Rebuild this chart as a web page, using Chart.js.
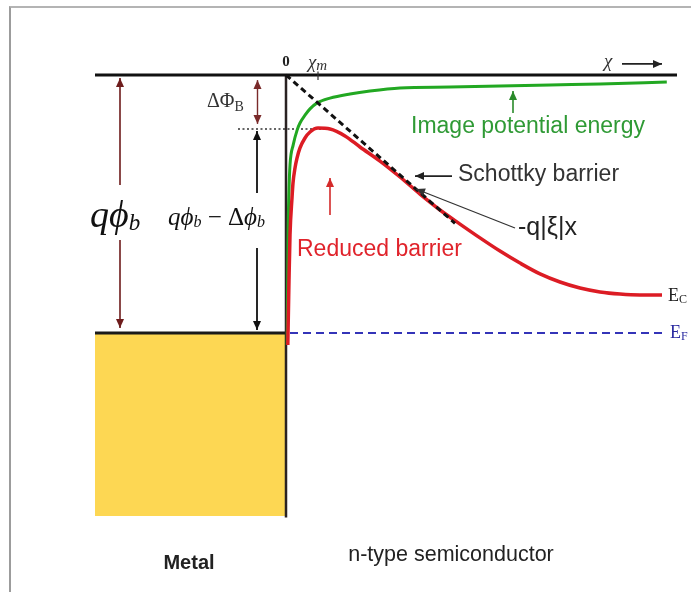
<!DOCTYPE html>
<html>
<head>
<meta charset="utf-8">
<script src="https://cdn.jsdelivr.net/npm/chart.js@4.4.1/dist/chart.umd.min.js"></script>
<style>
  html, body { margin: 0; padding: 0; background: #fff; }
  #wrap { position: relative; width: 691px; height: 592px; }
  #frame { position: absolute; left: 9px; top: 6px; right: 0; bottom: 0;
           border-left: 2px solid #9c9c9c; border-top: 2px solid #b4b4b4; }
  canvas { position: absolute; left: 0; top: 0; }
</style>
</head>
<body>
<div id="wrap">
  <div id="frame"></div>
  <canvas id="band" width="691" height="592"></canvas>
</div>
<script>
// Energies in eV (Fermi level = 0), positions in nm from the metal/semiconductor interface.
const barrierHeight = 0.86;      // q·phi_b
const loweredTop = 0.68;         // peak of the reduced barrier
const xMax = 0.8;                // position of the barrier maximum, x_m
const fieldSlope = 0.117;        // q|ξ| (eV per nm)
const metalLeft = -4.775;
const metalBottom = -0.61;
const vacuumRight = 9.775;
const fermiRight = 9.4;

// Image potential energy curve
const imageX = [0.03, 0.05, 0.075, 0.1, 0.18, 0.28, 0.35, 0.48, 0.6, 0.78, 1.1, 1.6, 2.1, 2.85, 4.1, 5.35, 6.6, 7.85, 9.52];
const imageE = [-0.04, 0.31, 0.477, 0.56, 0.627, 0.677, 0.70, 0.727, 0.747, 0.767, 0.783, 0.797, 0.807, 0.817, 0.82, 0.823, 0.827, 0.83, 0.837];

// Conduction band edge including image-force lowering
const bandX = [0.045, 0.075, 0.1, 0.15, 0.175, 0.225, 0.275, 0.35, 0.475, 0.6, 0.8, 1.1, 1.475, 1.85, 2.35, 2.85, 3.35, 3.85, 4.35, 4.85, 5.35, 5.85, 6.35, 6.85, 7.35, 7.85, 8.35, 8.85, 9.4];
const bandE = [-0.04, 0.177, 0.327, 0.45, 0.50, 0.55, 0.583, 0.617, 0.65, 0.67, 0.683, 0.68, 0.657, 0.62, 0.573, 0.52, 0.463, 0.41, 0.363, 0.317, 0.273, 0.233, 0.197, 0.17, 0.15, 0.137, 0.13, 0.127, 0.127];

const pts = (xs, ys) => xs.map((x, i) => ({ x, y: ys[i] }));
const fieldEnd = 4.225;

const serif = '"Liberation Serif", "Times New Roman", serif';
const sans = '"Liberation Sans", Arial, Helvetica, sans-serif';

// Text runs: [text, font, dy] drawn one after another
const labels = [
  { x: 0, y: 0.903, align: 'center', color: '#222', runs: [['0', 'bold 15px ' + serif, 0]] },
  { x: 0.55, y: 0.9, color: '#333', runs: [['χ', 'italic 19px ' + serif, 0], ['m', 'italic 15px ' + serif, 3]] },
  { x: 7.95, y: 0.903, color: '#333', runs: [['χ', 'italic 19px ' + serif, 0]] },
  { x: -1.975, y: 0.77, color: '#333', runs: [['ΔΦ', '20px ' + serif, 0], ['B', '14px ' + serif, 5]] },
  { x: -4.9, y: 0.353, base: 'alphabetic', color: '#111', runs: [['q', 'italic 38px ' + serif, 0], ['ϕ', 'italic 38px ' + serif, 0], ['b', 'italic 23px ' + serif, 3]] },
  { x: -2.95, y: 0.36, base: 'alphabetic', color: '#111', runs: [['q', 'italic 25px ' + serif, 0], ['ϕ', 'italic 25px ' + serif, 0], ['b', 'italic 16px ' + serif, 2], [' − Δ', '25px ' + serif, 0], ['ϕ', 'italic 25px ' + serif, 0], ['b', 'italic 16px ' + serif, 2]] },
  { x: 3.125, y: 0.687, color: '#2f9a35', runs: [['Image potential energy', '23px ' + sans, 0]] },
  { x: 4.3, y: 0.527, color: '#333', runs: [['Schottky barrier', '23px ' + sans, 0]] },
  { x: 5.8, y: 0.35, color: '#222', runs: [['-q|ξ|x', '25px ' + sans, 0]] },
  { x: 0.275, y: 0.277, color: '#e0232b', runs: [['Reduced barrier', '23px ' + sans, 0]] },
  { x: 9.55, y: 0.123, color: '#222', runs: [['E', '18px ' + serif, 0], ['C', '12px ' + serif, 4]] },
  { x: 9.6, y: 0.0, color: '#2a2aa0', runs: [['E', '18px ' + serif, 0], ['F', '12px ' + serif, 4]] },
  { x: -2.425, y: -0.767, align: 'center', color: '#222', runs: [['Metal', 'bold 20px ' + sans, 0]] },
  { x: 4.125, y: -0.74, align: 'center', color: '#222', runs: [['n-type semiconductor', '21.5px ' + sans, 0]] }
];

// Arrows: from (x1,y1) to (x2,y2); heads at 'end', 'start' or 'both'; optional gap in y
const arrows = [
  { x1: -4.15, y1: 0.017, x2: -4.15, y2: 0.85, heads: 'both', color: '#6e1c1c', w: 1.6, gap: [0.31, 0.493] },
  { x1: -0.7125, y1: 0.697, x2: -0.7125, y2: 0.843, heads: 'both', color: '#7a2a2a', w: 1.4 },
  { x1: -0.725, y1: 0.01, x2: -0.725, y2: 0.673, heads: 'both', color: '#111', w: 1.8, gap: [0.283, 0.467] },
  { x1: 5.675, y1: 0.733, x2: 5.675, y2: 0.807, heads: 'end', color: '#2a8a2a', w: 1.6 },
  { x1: 1.1, y1: 0.393, x2: 1.1, y2: 0.517, heads: 'end', color: '#d42a2a', w: 1.6 },
  { x1: 4.15, y1: 0.523, x2: 3.225, y2: 0.523, heads: 'end', color: '#222', w: 1.8 },
  { x1: 5.725, y1: 0.35, x2: 3.25, y2: 0.48, heads: 'end', color: '#333', w: 1.3 },
  { x1: 8.4, y1: 0.897, x2: 9.4, y2: 0.897, heads: 'end', color: '#222', w: 1.8 }
];

const decor = {
  id: 'decor',
  afterDatasetsDraw(chart) {
    const { ctx, scales: { x: sx, y: sy } } = chart;
    const X = v => sx.getPixelForValue(v), Y = v => sy.getPixelForValue(v);
    ctx.save();
    // x_m tick on the vacuum level
    ctx.strokeStyle = '#333'; ctx.lineWidth = 1.2;
    ctx.beginPath(); ctx.moveTo(X(xMax), Y(0.872)); ctx.lineTo(X(xMax), Y(0.843)); ctx.stroke();

    const head = (xa, ya, xb, yb, color) => {
      const ang = Math.atan2(yb - ya, xb - xa), L = 9, H = 4;
      ctx.fillStyle = color;
      ctx.beginPath();
      ctx.moveTo(xb, yb);
      ctx.lineTo(xb - L * Math.cos(ang) + H * Math.sin(ang), yb - L * Math.sin(ang) - H * Math.cos(ang));
      ctx.lineTo(xb - L * Math.cos(ang) - H * Math.sin(ang), yb - L * Math.sin(ang) + H * Math.cos(ang));
      ctx.closePath(); ctx.fill();
    };
    for (const a of arrows) {
      const x1 = X(a.x1), y1 = Y(a.y1), x2 = X(a.x2), y2 = Y(a.y2);
      ctx.strokeStyle = a.color; ctx.lineWidth = a.w;
      ctx.beginPath();
      if (a.gap) {
        ctx.moveTo(x1, y1); ctx.lineTo(x1, Y(a.gap[0]));
        ctx.moveTo(x2, Y(a.gap[1])); ctx.lineTo(x2, y2);
      } else {
        ctx.moveTo(x1, y1); ctx.lineTo(x2, y2);
      }
      ctx.stroke();
      if (a.heads === 'end' || a.heads === 'both') head(x1, y1, x2, y2, a.color);
      if (a.heads === 'start' || a.heads === 'both') head(x2, y2, x1, y1, a.color);
    }

    for (const l of labels) {
      ctx.fillStyle = l.color;
      ctx.textBaseline = l.base || 'middle';
      ctx.textAlign = 'left';
      let total = 0;
      for (const r of l.runs) { ctx.font = r[1]; total += ctx.measureText(r[0]).width; }
      let cx = X(l.x) - (l.align === 'center' ? total / 2 : 0);
      const cy = Y(l.y);
      for (const r of l.runs) {
        ctx.font = r[1];
        ctx.fillText(r[0], cx, cy + r[2]);
        cx += ctx.measureText(r[0]).width;
      }
    }
    ctx.restore();
  }
};

new Chart(document.getElementById('band'), {
  type: 'line',
  data: {
    datasets: [
      { // metal: filled up to the Fermi level
        data: [{ x: metalLeft, y: 0 }, { x: 0, y: 0 }],
        borderColor: '#1a1a1a', borderWidth: 3,
        backgroundColor: '#fdd753', fill: { value: metalBottom }, order: 5
      },
      { // vacuum level
        data: [{ x: metalLeft, y: barrierHeight }, { x: vacuumRight, y: barrierHeight }],
        borderColor: '#111', borderWidth: 3, order: 4
      },
      { // interface
        data: [{ x: 0, y: barrierHeight }, { x: 0, y: metalBottom - 0.005 }],
        borderColor: '#2a2222', borderWidth: 2.5, order: 4
      },
      { // Fermi level in the semiconductor
        data: [{ x: 0.1, y: 0 }, { x: fermiRight, y: 0 }],
        borderColor: '#3434b8', borderWidth: 2.2, borderDash: [8, 5], order: 3
      },
      { // lowered barrier top reference
        data: [{ x: -1.2, y: loweredTop }, { x: 1.05, y: loweredTop }],
        borderColor: '#333', borderWidth: 1.5, borderDash: [2, 2.5], order: 3
      },
      { // image potential energy
        data: pts(imageX, imageE),
        borderColor: '#22a822', borderWidth: 3, cubicInterpolationMode: 'monotone', order: 2
      },
      { // reduced barrier (E_C)
        data: pts(bandX, bandE),
        borderColor: '#dc1c24', borderWidth: 3.5, cubicInterpolationMode: 'monotone', order: 1
      },
      { // Schottky barrier, -q|ξ|x
        data: [{ x: 0, y: barrierHeight }, { x: fieldEnd, y: barrierHeight - fieldSlope * fieldEnd }],
        borderColor: '#111', borderWidth: 3, borderDash: [6, 4], order: 0
      }
    ]
  },
  options: {
    responsive: false,
    animation: false,
    devicePixelRatio: 1,
    layout: { padding: 0 },
    elements: { point: { radius: 0, hoverRadius: 0 }, line: { tension: 0 } },
    plugins: { legend: { display: false }, tooltip: { enabled: false }, title: { display: false } },
    scales: {
      x: { type: 'linear', min: -7.15, max: 10.125, display: false },
      y: { type: 'linear', min: -0.86333, max: 1.11, display: false }
    }
  },
  plugins: [decor]
});
</script>
</body>
</html>
